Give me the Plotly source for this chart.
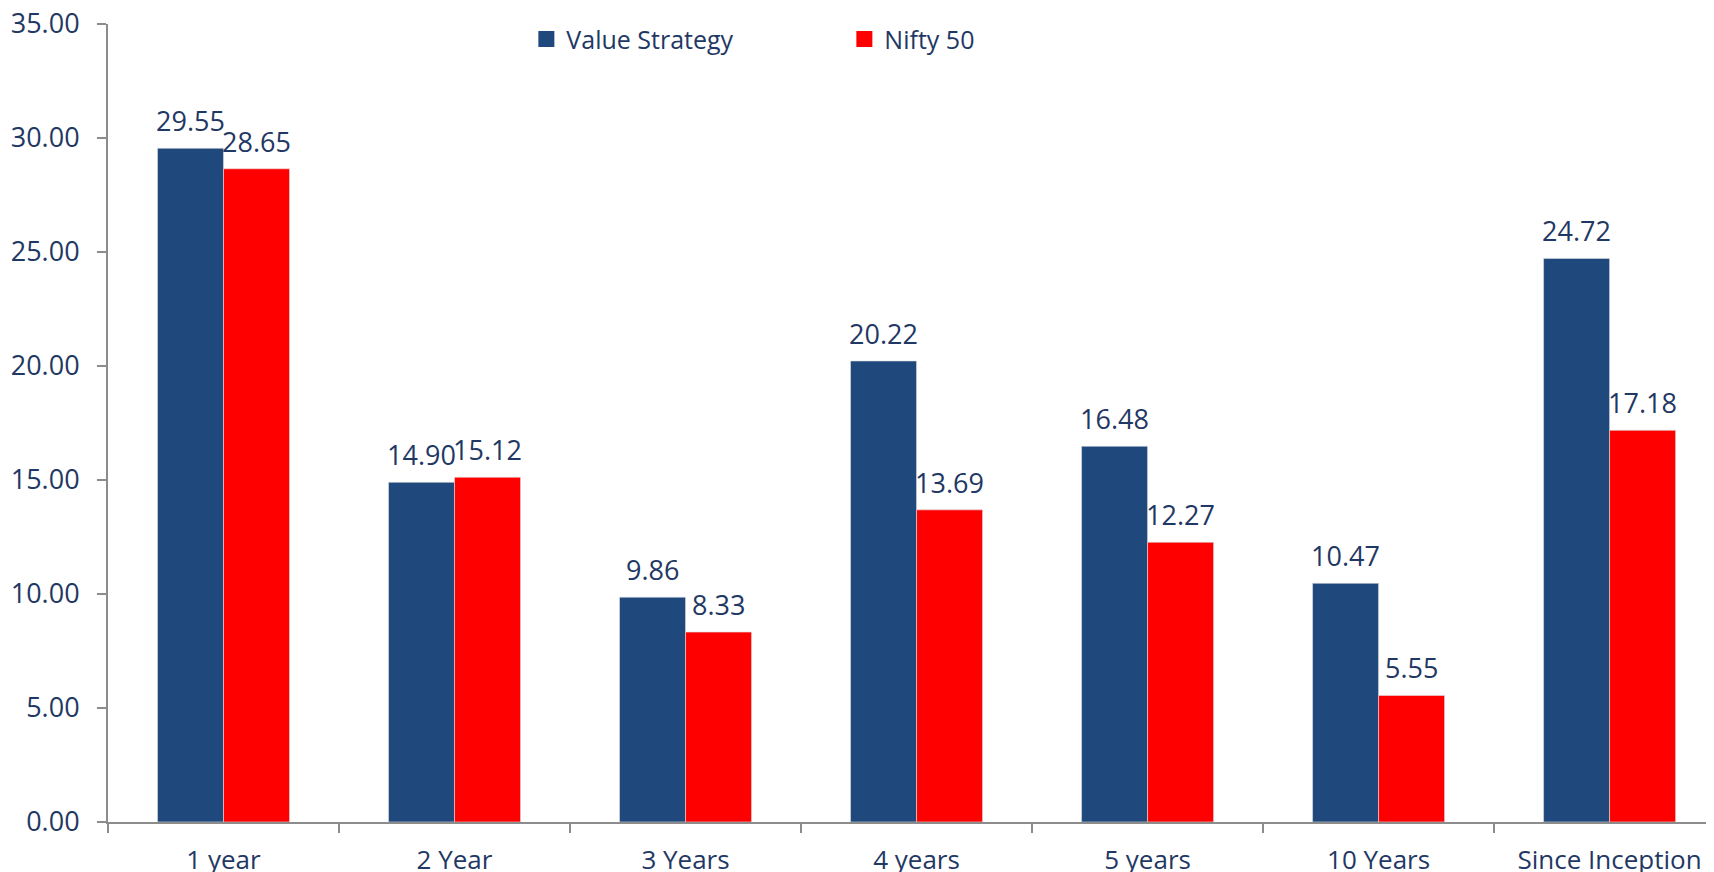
import plotly.graph_objects as go

categories = ["1 year", "2 Year", "3 Years", "4 years", "5 years", "10 Years", "Since Inception"]
value_strategy = [29.55, 14.90, 9.86, 20.22, 16.48, 10.47, 24.72]
nifty_50 = [28.65, 15.12, 8.33, 13.69, 12.27, 5.55, 17.18]
y_ticks = [0, 5, 10, 15, 20, 25, 30, 35]

BLUE = "#1F497D"
RED = "#FF0000"
TXT = "#1F3864"
AXIS = "#8C8C8C"
FONT = "Open Sans"

fig = go.Figure()
fig.add_trace(go.Bar(name="Value Strategy", x=categories, y=value_strategy,
                     marker=dict(color=BLUE, line=dict(width=0.6, color="#E0E0E0")),
                     offsetgroup="a", showlegend=False))
fig.add_trace(go.Bar(name="Nifty 50", x=categories, y=nifty_50,
                     marker=dict(color=RED, line=dict(width=0.6, color="#E0E0E0")),
                     offsetgroup="b", showlegend=False))
# legend entries with larger square swatches
for name, col in (("Value Strategy", BLUE), ("Nifty 50", RED)):
    fig.add_trace(go.Scatter(name=name, x=[None], y=[None], mode="markers",
                             marker=dict(symbol="square", size=18, color=col),
                             showlegend=True))

bar_w = 0.5715 / 2
for i, (c, v, n) in enumerate(zip(categories, value_strategy, nifty_50)):
    for val, off in ((v, -bar_w / 2), (n, bar_w / 2)):
        fig.add_annotation(x=i + off, y=val, xref="x", yref="y",
                           text=f"{val:.2f}", showarrow=False,
                           yanchor="bottom", yshift=7,
                           font=dict(family=FONT, size=27, color=TXT))

fig.update_layout(
    width=1714, height=872,
    margin=dict(l=100, r=8, t=16, b=58, autoexpand=False),
    paper_bgcolor="white", plot_bgcolor="white",
    barmode="group", bargap=0.4285, bargroupgap=0,
    font=dict(family=FONT, size=26, color=TXT),
    showlegend=True,
    legend=dict(orientation="h", x=0.2605, xanchor="left", y=0.981, yanchor="middle",
                entrywidth=273, entrywidthmode="pixels", itemsizing="trace",
                font=dict(family=FONT, size=25, color=TXT), bgcolor="rgba(0,0,0,0)"),
)
fig.update_xaxes(range=[-0.5, 6.452], showline=True, linecolor=AXIS, linewidth=2,
                 ticks="outside", tickson="boundaries", ticklen=9, tickcolor=AXIS,
                 tickwidth=2, showgrid=False, ticklabelstandoff=14, automargin=False,
                 ticklabeloverflow="allow",
                 tickfont=dict(family=FONT, size=26, color=TXT))
fig.update_yaxes(range=[0, 35], tickvals=y_ticks, tickformat=".2f", showline=True,
                 linecolor=AXIS, linewidth=2, ticks="outside", ticklen=9,
                 tickcolor=AXIS, tickwidth=2, showgrid=False, zeroline=False,
                 ticklabelstandoff=12, automargin=False, ticklabeloverflow="allow",
                 tickfont=dict(family=FONT, size=27, color=TXT))

fig.write_html("out.html")
